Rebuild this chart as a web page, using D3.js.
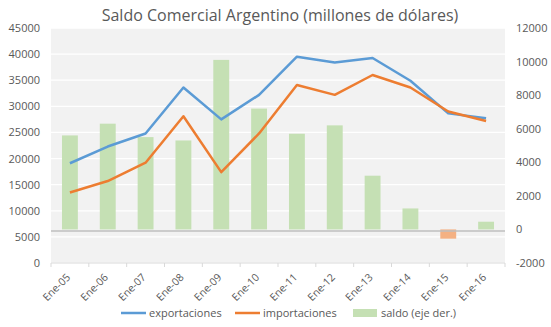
<!DOCTYPE html>
<html>
<head>
<meta charset="utf-8">
<script src="https://cdn.jsdelivr.net/npm/d3@7"></script>
<style>
  body { margin: 0; background: #fff; }
  text { font-family: "Open Sans", "Noto Sans", sans-serif; fill: #595959; }
</style>
</head>
<body>
<svg width="551" height="327"></svg>
<script>
const categories = ["Ene-05", "Ene-06", "Ene-07", "Ene-08", "Ene-09", "Ene-10",
                    "Ene-11", "Ene-12", "Ene-13", "Ene-14", "Ene-15", "Ene-16"];
const exportaciones = [19100, 22300, 24800, 33600, 27500, 32200, 39500, 38400, 39250, 34900, 28650, 27700];
const importaciones = [13500, 15700, 19200, 28100, 17400, 24800, 34100, 32200, 36000, 33600, 29000, 27200];
const saldo = [5600, 6300, 5500, 5300, 10100, 7200, 5700, 6200, 3200, 1250, -550, 460];
const leftTicks = [0, 5000, 10000, 15000, 20000, 25000, 30000, 35000, 40000, 45000];
const rightTicks = [-2000, 0, 2000, 4000, 6000, 8000, 10000, 12000];

const svg = d3.select("svg");
const plot = { left: 51, right: 505, top: 28, bottom: 263 };

const x = d3.scaleBand().domain(categories).range([plot.left, plot.right]);
const yL = d3.scaleLinear().domain([0, 45000]).range([plot.bottom, plot.top]);
const yR = d3.scaleLinear().domain([-2000, 12000]).range([plot.bottom, plot.top]);

// fondo del área de trazado
svg.append("rect")
    .attr("x", plot.left).attr("y", plot.top)
    .attr("width", plot.right - plot.left).attr("height", plot.bottom - plot.top)
    .attr("fill", "#f2f2f2");

// líneas de cuadrícula
svg.selectAll(".grid")
    .data(leftTicks)
    .enter()
    .append("line")
    .attr("x1", plot.left).attr("x2", plot.right)
    .attr("y1", d => yL(d)).attr("y2", d => yL(d))
    .attr("stroke", "#ffffff").attr("stroke-width", 1.3);

// barras de saldo
const bw = x.bandwidth() * 0.42;
svg.selectAll(".bar")
    .data(saldo)
    .enter()
    .append("rect")
    .attr("x", (d, i) => x(categories[i]) + (x.bandwidth() - bw) / 2)
    .attr("y", d => yR(Math.max(d, 0)))
    .attr("width", bw)
    .attr("height", d => Math.abs(yR(d) - yR(0)))
    .attr("fill", d => d < 0 ? "#f4b183" : "#c5e0b4");

// línea de cero (eje derecho)
svg.append("line")
    .attr("x1", plot.left).attr("x2", plot.right)
    .attr("y1", yR(0) + 1.5).attr("y2", yR(0) + 1.5)
    .attr("stroke", "#bfbfbf").attr("stroke-width", 1.5);

// eje inferior
svg.append("line")
    .attr("x1", plot.left).attr("x2", plot.right)
    .attr("y1", plot.bottom).attr("y2", plot.bottom)
    .attr("stroke", "#d9d9d9");
const bounds = categories.map(c => x(c)).concat([plot.right]);
svg.selectAll(".tick")
    .data(bounds)
    .enter()
    .append("line")
    .attr("x1", d => d).attr("x2", d => d)
    .attr("y1", plot.bottom).attr("y2", plot.bottom + 4)
    .attr("stroke", "#d9d9d9");

// líneas
const cx = i => x(categories[i]) + x.bandwidth() / 2;
const line = d3.line().x((d, i) => cx(i)).y(d => yL(d));
svg.append("path").datum(exportaciones)
    .attr("d", line).attr("fill", "none")
    .attr("stroke", "#5b9bd5").attr("stroke-width", 2.5).attr("stroke-linejoin", "round");
svg.append("path").datum(importaciones)
    .attr("d", line).attr("fill", "none")
    .attr("stroke", "#ed7d31").attr("stroke-width", 2.5).attr("stroke-linejoin", "round");

// etiquetas de ejes
svg.selectAll(".ly")
    .data(leftTicks)
    .enter()
    .append("text")
    .attr("x", 40).attr("y", d => yL(d) + 4)
    .attr("text-anchor", "end")
    .attr("font-size", 11)
    .text(d => d);
svg.selectAll(".ry")
    .data(rightTicks)
    .enter()
    .append("text")
    .attr("x", 516).attr("y", d => yR(d) + 4)
    .attr("font-size", 11)
    .text(d => d);
svg.selectAll(".lx")
    .data(categories)
    .enter()
    .append("text")
    .attr("transform", (d, i) => `translate(${cx(i) + 1},${plot.bottom + 15}) rotate(-45)`)
    .attr("text-anchor", "end")
    .attr("font-size", 10.5)
    .text(d => d);

// título
svg.append("text")
    .attr("x", 280).attr("y", 21)
    .attr("text-anchor", "middle")
    .attr("font-size", 16)
    .text("Saldo Comercial Argentino (millones de dólares)");

// leyenda
const legend = [
    { label: "exportaciones", color: "#5b9bd5", type: "line", x: 121 },
    { label: "importaciones", color: "#ed7d31", type: "line", x: 235 },
    { label: "saldo (eje der.)", color: "#c5e0b4", type: "rect", x: 353 }
];
const lg = svg.selectAll(".lg").data(legend).enter().append("g")
    .attr("transform", d => `translate(${d.x},313)`);
lg.filter(d => d.type === "line").append("line")
    .attr("x1", 0).attr("x2", 25).attr("y1", 0).attr("y2", 0)
    .attr("stroke", d => d.color).attr("stroke-width", 2.5);
lg.filter(d => d.type === "rect").append("rect")
    .attr("x", 0).attr("y", -4).attr("width", 24).attr("height", 8)
    .attr("fill", d => d.color);
lg.append("text")
    .attr("x", 28).attr("y", 4)
    .attr("font-size", 11)
    .text(d => d.label);
</script>
</body>
</html>
